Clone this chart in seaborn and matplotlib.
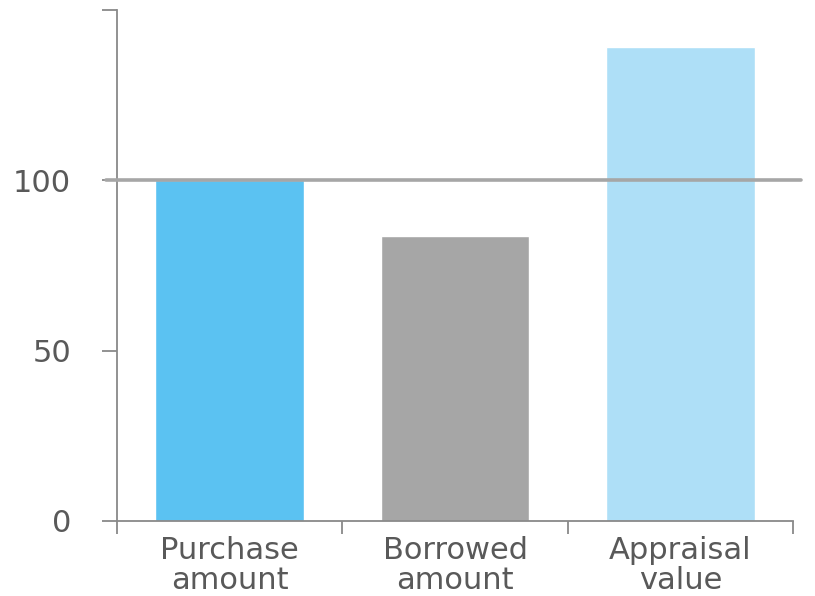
import matplotlib
matplotlib.use("Agg")
import matplotlib.pyplot as plt
import seaborn as sns
import pandas as pd

categories = ["Purchase\namount", "Borrowed\namount", "Appraisal\nvalue"]
values = [100, 83.8, 139]
colors = ["#5BC2F2", "#A6A6A6", "#AEDFF7"]
ytick_vals = [0, 50, 100, 150]
ytick_labels = ["0", "50", "100", ""]
ref_line = 100

sns.set_theme(style="white")
plt.rcParams["font.family"] = ["DejaVu Sans"]

df = pd.DataFrame({"cat": categories, "val": values})

fig = plt.figure(figsize=(8.15, 5.96), dpi=100)
ax = fig.add_axes([117/815, 1-521/596, (793-117)/815, (521-10)/596])

sns.barplot(data=df, x="cat", y="val", hue="cat", palette=colors, width=0.66,
            legend=False, ax=ax, saturation=1)

ax.set_xlim(-0.5, 2.5)
ax.set_ylim(0, 150)
ax.set_xlabel("")
ax.set_ylabel("")

axis_col = "#898989"
text_col = "#595959"
for s in ["top", "right"]:
    ax.spines[s].set_visible(False)
for s in ["left", "bottom"]:
    ax.spines[s].set_color(axis_col)
    ax.spines[s].set_linewidth(1.3)

ax.set_xticks([-0.5, 0.5, 1.5, 2.5])
ax.set_xticklabels([])
ax.set_xticks([0, 1, 2], minor=True)
ax.set_xticklabels(categories, minor=True, fontsize=22, color=text_col, linespacing=1.04)
ax.tick_params(axis="x", which="major", length=9, width=1.3, color=axis_col, direction="out", bottom=True)
ax.tick_params(axis="x", which="minor", length=0, pad=11, bottom=True)

ax.set_yticks(ytick_vals)
ax.set_yticklabels(ytick_labels, fontsize=22, color=text_col)
ax.tick_params(axis="y", length=11, width=1.3, color=axis_col, direction="out", left=True, pad=22)

ax.plot([-0.55, 2.535], [ref_line, ref_line], color="#A6A6A6", lw=2.6, clip_on=False, zorder=5)

fig.savefig("out.png", dpi=100)
